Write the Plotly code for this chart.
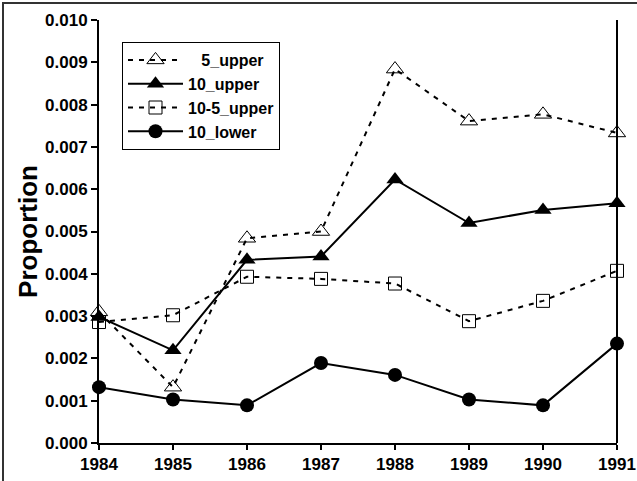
import plotly.graph_objects as go

years = [1984, 1985, 1986, 1987, 1988, 1989, 1990, 1991]
upper5 = [0.00310, 0.00132, 0.00484, 0.00500, 0.00884, 0.00761, 0.00777, 0.00733]
upper10 = [0.00298, 0.00219, 0.00433, 0.00441, 0.00623, 0.00520, 0.00551, 0.00567]
upper10_5 = [0.00286, 0.00302, 0.00393, 0.00388, 0.00377, 0.00288, 0.00336, 0.00407]
lower10 = [0.00132, 0.00103, 0.00089, 0.00189, 0.00161, 0.00103, 0.00089, 0.00235]

names = ["\u00a0\u00a0\u00a05_upper", "10_upper", "10-5_upper", "10_lower"]

fig = go.Figure()
fig.add_trace(go.Scatter(x=years, y=upper5, name=names[0], mode="lines+markers",
                         line=dict(color="black", width=2, dash="5px,6px"),
                         marker=dict(symbol="triangle-up-open", size=15, color="black", line=dict(width=1)),
                         cliponaxis=False))
fig.add_trace(go.Scatter(x=years, y=upper10, name=names[1], mode="lines+markers",
                         line=dict(color="black", width=2),
                         marker=dict(symbol="triangle-up", size=15, color="black"),
                         cliponaxis=False))
fig.add_trace(go.Scatter(x=years, y=upper10_5, name=names[2], mode="lines+markers",
                         line=dict(color="black", width=2, dash="5px,6px"),
                         marker=dict(symbol="square-open", size=13, color="black", line=dict(width=1)),
                         cliponaxis=False))
fig.add_trace(go.Scatter(x=years, y=lower10, name=names[3], mode="lines+markers",
                         line=dict(color="black", width=2),
                         marker=dict(symbol="circle", size=14, color="black"),
                         cliponaxis=False))

L, R, T, B = 99, 20, 20, 38
W, H = 637, 481
pw, ph = W - L - R, H - T - B

def px2paper_x(px):
    return (px - L) / pw

def px2paper_y(py):
    return (H - B - py) / ph

fig.update_layout(
    width=W, height=H,
    margin=dict(l=L, r=R, t=T, b=B, autoexpand=False),
    paper_bgcolor="white", plot_bgcolor="white",
    font=dict(family="Liberation Sans, Arial", color="black", size=16),
    showlegend=True,
    legend=dict(x=px2paper_x(122), y=px2paper_y(42), xanchor="left", yanchor="top",
                bordercolor="black", borderwidth=1, bgcolor="white",
                font=dict(size=16, family="Liberation Sans, Arial", weight="bold"),
                tracegroupgap=0, itemwidth=55),
    xaxis=dict(range=[1984, 1991], tickmode="array", tickvals=years,
               ticktext=[str(y) for y in years], showgrid=False, zeroline=False,
               showline=True, linecolor="black", linewidth=2, automargin=False,
               ticks="outside", ticklen=5, tickwidth=1.5, tickcolor="black",
               ticklabeloverflow="allow",
               tickfont=dict(size=17, weight="bold")),
    yaxis=dict(range=[0, 0.010], dtick=0.001, tickformat=".3f", showgrid=False,
               zeroline=False, showline=True, linecolor="black", linewidth=2, automargin=False,
               ticks="outside", ticklen=6, tickwidth=1.5, tickcolor="black",
               tickfont=dict(size=17, weight="bold"),
               title=dict(text="Proportion", font=dict(size=26, weight="bold"), standoff=0)),
    shapes=[
        dict(type="line", xref="paper", yref="paper", x0=1, x1=1, y0=0, y1=1,
             line=dict(color="black", width=2)),
        dict(type="rect", xref="paper", yref="paper",
             x0=px2paper_x(3), x1=px2paper_x(660), y0=px2paper_y(500), y1=px2paper_y(3),
             line=dict(color="#333333", width=2), layer="below"),
    ],
)

fig.write_html("out.html", config={"displayModeBar": False},
               post_script="document.body.style.margin='0';document.body.style.overflow='hidden';")
